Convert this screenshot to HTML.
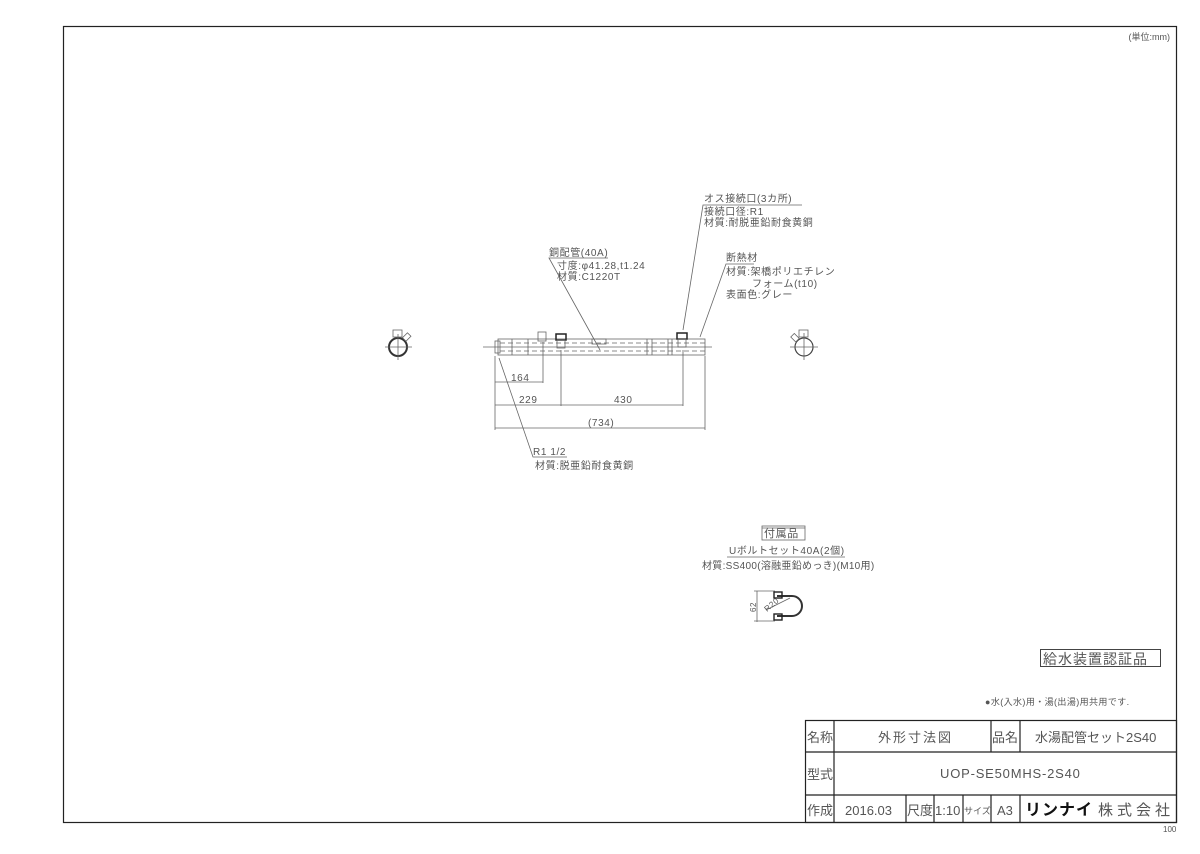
<!DOCTYPE html>
<html><head><meta charset="utf-8"><style>
body{margin:0;background:#fff}
svg text{font-family:"Liberation Sans","Noto Sans CJK JP",sans-serif;fill:#555}
</style></head><body>
<svg width="1200" height="849" viewBox="0 0 1200 849" xmlns="http://www.w3.org/2000/svg">
<rect x="63.5" y="26.5" width="1113" height="796" fill="none" stroke="#222" stroke-width="1.2"/>
<text x="1170" y="40" font-size="9" text-anchor="end">(単位:mm)</text>
<g stroke="#666" fill="none" stroke-width="0.8">
<rect x="498" y="339" width="207" height="16"/>
<rect x="495" y="341" width="5" height="12"/>
<line x1="500" y1="343" x2="705" y2="343" stroke-dasharray="5,3"/>
<line x1="500" y1="351" x2="705" y2="351" stroke-dasharray="5,3"/>
<line x1="512" y1="339" x2="512" y2="355"/><line x1="528" y1="339" x2="528" y2="355"/>
<line x1="647" y1="339" x2="647" y2="355"/><line x1="652" y1="339" x2="652" y2="355"/>
<line x1="668" y1="339" x2="668" y2="355"/><line x1="672" y1="339" x2="672" y2="355"/>
<rect x="592" y="339" width="14" height="5"/>
<rect x="538" y="332" width="8" height="9"/>
<rect x="556" y="334" width="10" height="6" stroke="#222" stroke-width="1.5"/>
<rect x="557" y="340" width="8" height="8"/>
<rect x="677" y="333" width="10" height="6" stroke="#222" stroke-width="1.5"/>
<rect x="678" y="339" width="8" height="8"/>
<line x1="483" y1="347" x2="712" y2="347"/>
<circle cx="398" cy="347" r="9" stroke="#333" stroke-width="2"/>
<line x1="385" y1="347" x2="412" y2="347"/><line x1="398" y1="334" x2="398" y2="360"/>
<rect x="393" y="330" width="9" height="7"/>
<rect x="403" y="335" width="7" height="5" transform="rotate(-45 406 337)"/>
<circle cx="804" cy="347" r="9" stroke="#444" stroke-width="1.2"/>
<line x1="790" y1="347" x2="818" y2="347"/><line x1="804" y1="333" x2="804" y2="360"/>
<rect x="799" y="330" width="9" height="7"/>
<rect x="792" y="335" width="7" height="5" transform="rotate(45 795 337)"/>
<line x1="495" y1="356" x2="495" y2="430"/>
<line x1="543" y1="342" x2="543" y2="383"/>
<line x1="561" y1="350" x2="561" y2="406"/>
<line x1="683" y1="350" x2="683" y2="406"/>
<line x1="705" y1="356" x2="705" y2="430"/>
<line x1="495" y1="382" x2="543" y2="382"/>
<line x1="495" y1="405" x2="561" y2="405"/>
<line x1="561" y1="405" x2="683" y2="405"/>
<line x1="495" y1="428" x2="705" y2="428"/>
<polyline points="499,358 533,457 567,457"/>
<polyline points="608,258 549,258 600,350"/>
<polyline points="802,205 703,205 683,330"/>
<polyline points="754,264 726,264 700,337"/>
<line x1="762" y1="528" x2="805" y2="528"/>
<polyline points="757,591 757,622"/>
<line x1="754" y1="591" x2="775" y2="591"/><line x1="754" y1="621" x2="775" y2="621"/>
<path d="M777 596 H792 A10 10 0 0 1 792 616 H777" stroke="#333" stroke-width="2"/>
<rect x="774" y="592" width="8" height="6" stroke="#222" stroke-width="1.4"/>
<rect x="774" y="614" width="8" height="6" stroke="#222" stroke-width="1.4"/>
<line x1="766" y1="610" x2="790" y2="598"/>
<rect x="762" y="526" width="43" height="14"/>
<line x1="727" y1="557" x2="845" y2="557"/>
</g>
<g font-size="10" letter-spacing="0.6">
<text x="511" y="381">164</text>
<text x="519" y="403">229</text>
<text x="614" y="403">430</text>
<text x="588" y="426">(734)</text>
<text x="533" y="455">R1 1/2</text>
<text x="535" y="469">材質:脱亜鉛耐食黄銅</text>
<text x="549" y="256">銅配管(40A)</text>
<text x="557" y="269">寸度:φ41.28,t1.24</text>
<text x="557" y="280">材質:C1220T</text>
<text x="704" y="202">オス接続口(3カ所)</text>
<text x="704" y="215">接続口径:R1</text>
<text x="704" y="226">材質:耐脱亜鉛耐食黄銅</text>
<text x="726" y="261">断熱材</text>
<text x="726" y="275">材質:架橋ポリエチレン</text>
<text x="752" y="287">フォーム(t10)</text>
<text x="726" y="298">表面色:グレー</text>
<text x="764" y="537" font-size="11">付属品</text>
<text x="729" y="554">Uボルトセット40A(2個)</text>
<text x="702" y="569" letter-spacing="0.3">材質:SS400(溶融亜鉛めっき)(M10用)</text>
<text x="756" y="612" font-size="8" transform="rotate(-90 756 612)">62</text>
<text x="767" y="612" font-size="8" transform="rotate(-40 767 612)">R20</text>
</g>
<rect x="1040.5" y="649.5" width="120" height="17" fill="none" stroke="#444"/>
<text x="1043" y="664" font-size="14" letter-spacing="1">給水装置認証品</text>
<text x="985" y="705" font-size="9" letter-spacing="0.4">●水(入水)用・湯(出湯)用共用です.</text>
<g stroke="#222" fill="none" stroke-width="1.2">
<rect x="805.5" y="720.5" width="371" height="102"/>
<line x1="805" y1="752" x2="1177" y2="752"/>
<line x1="805" y1="795" x2="1177" y2="795"/>
<line x1="834" y1="720" x2="834" y2="823"/>
<line x1="991" y1="720" x2="991" y2="752"/>
<line x1="1020" y1="720" x2="1020" y2="752"/>
<line x1="906" y1="795" x2="906" y2="823"/>
<line x1="934" y1="795" x2="934" y2="823"/>
<line x1="963" y1="795" x2="963" y2="823"/>
<line x1="991" y1="795" x2="991" y2="823"/>
<line x1="1020" y1="795" x2="1020" y2="823"/>
</g>
<g font-size="13" fill="#444">
<text x="807" y="742">名称</text>
<text x="878" y="742" letter-spacing="2">外形寸法図</text>
<text x="992" y="742">品名</text>
<text x="1035" y="742">水湯配管セット2S40</text>
<text x="807" y="779">型式</text>
<text x="940" y="778" letter-spacing="0.8">UOP-SE50MHS-2S40</text>
<text x="807" y="815">作成</text>
<text x="845" y="815">2016.03</text>
<text x="907" y="815">尺度</text>
<text x="935" y="815">1:10</text>
<text x="964" y="814" font-size="9">サイズ</text>
<text x="997" y="815">A3</text>
<text x="1025" y="815" font-size="16" font-weight="bold" style="fill:#111" letter-spacing="1">リンナイ</text>
<text x="1098" y="815" font-size="15" letter-spacing="4">株式会社</text>
</g>
<text x="1163" y="832" font-size="8" fill="#999">100</text>
</svg>
</body></html>
